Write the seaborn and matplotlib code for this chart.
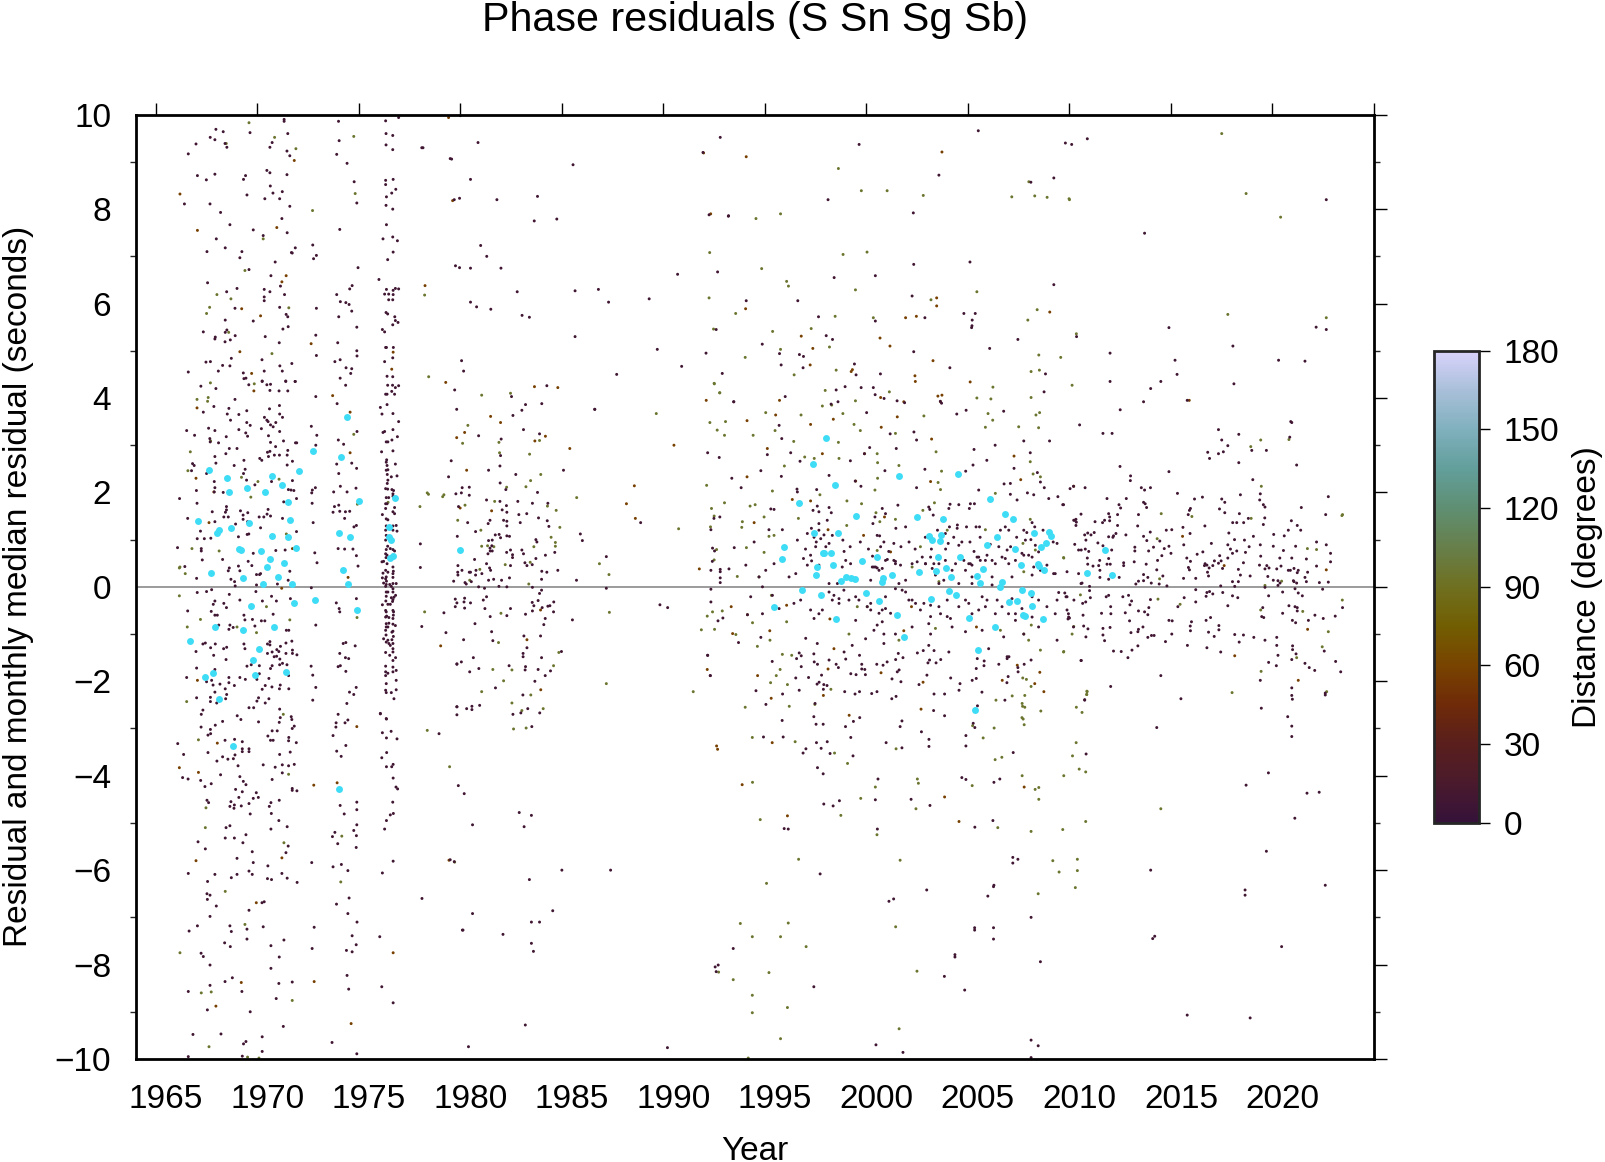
import numpy as np
import pandas as pd
import seaborn as sns
import matplotlib
matplotlib.use("Agg")
import matplotlib.pyplot as plt
from matplotlib.cm import ScalarMappable
from matplotlib.colors import LinearSegmentedColormap, Normalize
from matplotlib.ticker import MultipleLocator
from matplotlib.transforms import ScaledTranslation

# monthly medians (year, residual)
medians = [
    (1966.7,-1.14),(1967.1,1.4),(1967.4,-1.9),(1967.6,2.48),(1967.7,0.3),(1967.8,-1.83),(1967.9,-0.85),(1968.0,1.15),
    (1968.1,1.2),(1968.1,-2.38),(1968.5,2.3),(1968.6,2.0),(1968.7,1.25),(1968.8,-3.37),(1969.1,0.8),(1969.2,0.77),
    (1969.3,0.18),(1969.3,-0.92),(1969.5,2.1),(1969.6,1.35),(1969.7,-0.4),(1969.8,-1.55),(1969.9,-1.87),(1970.1,-1.32),
    (1970.2,0.75),(1970.4,2.0),(1970.3,0.07),(1970.5,0.43),(1970.6,0.6),(1970.7,2.35),(1970.7,1.07),(1970.8,-0.85),
    (1971.0,0.2),(1971.2,2.15),(1971.3,0.5),(1971.4,-1.8),(1971.5,1.8),(1971.5,1.05),(1971.6,1.42),(1971.7,0.07),
    (1971.8,-0.35),(1971.9,0.82),(1972.05,2.45),(1972.75,2.87),(1972.85,-0.28),(1974.0,-4.28),(1974.0,1.15),(1974.1,2.75),
    (1974.2,0.35),(1974.4,3.6),(1974.45,0.05),(1974.55,1.05),(1974.9,-0.5),(1975.0,1.82),(1976.5,1.27),(1976.5,1.05),
    (1976.6,1.0),(1976.55,0.62),(1976.7,0.65),(1976.8,1.88),(1980.0,0.77),
    (1998.03,3.16),(1997.35,2.6),(1998.44,2.15),(1996.68,1.78),(1999.5,1.5),(2001.62,2.34),(2004.5,2.39),(2006.1,1.87),
    (2006.83,1.55),(2007.2,1.44),(2002.5,1.47),(2003.76,1.43),(1997.43,1.15),(1998.6,1.15),(1995.93,0.85),(1995.85,0.6),
    (2003.1,1.08),(2003.25,1.0),(2003.66,1.09),(2003.6,0.98),(2006.42,1.06),(2005.93,0.89),(2007.34,0.81),(2008.27,1.13),
    (2008.6,0.84),(2008.85,0.92),(2009.0,1.17),(2009.1,1.07),(1997.85,0.71),(1997.93,0.71),(1998.25,0.72),(1998.34,0.47),
    (1997.58,0.42),(1997.53,0.25),(1999.76,0.54),(2000.53,0.64),(2002.6,0.32),(2001.25,0.25),(2000.83,0.18),(2000.76,0.1),
    (2003.53,0.64),(2004.6,0.64),(2003.42,0.34),(2003.94,0.39),(2004.17,0.2),(2005.76,0.38),(2005.43,0.22),(2005.58,0.09),
    (2006.66,0.11),(2006.6,0.0),(2007.6,0.47),(2008.43,0.48),(2008.5,0.44),(2008.75,0.35),(1998.75,0.13),(1999.0,0.2),
    (1999.25,0.18),(1999.42,0.17),(1996.84,-0.06),(1997.76,-0.17),(1999.99,-0.14),(2000.6,-0.29),(2003.17,-0.25),
    (2004.07,-0.08),(2004.42,-0.17),(2007.68,-0.06),(2008.1,-0.13),(2007.43,-0.3),(2007.0,-0.33),(2008.17,-0.4),
    (1995.43,-0.42),(1998.5,-0.69),(2001.5,-0.6),(2005.03,-0.67),(2006.35,-0.85),(2007.73,-0.6),(2007.83,-0.62),
    (2008.68,-0.69),(2001.84,-1.07),(2005.5,-1.33),(2005.34,-2.61),(2011.76,0.78),(2010.86,0.3),(2012.09,0.26),
]

# single residuals, nearby stations, 1965-1980
near_upper_left = [
    (1971.32,9.9),(1971.32,9.86),(1974.0,9.86),(1976.32,9.87),(1976.96,9.94),(1967.96,9.69),(1968.32,9.64),(1969.64,9.62),
    (1971.5,9.6),(1976.34,9.6),(1976.67,9.56),(1967.68,9.52),(1967.91,9.47),(1966.98,9.38),(1968.41,9.39),(1968.5,9.31),
    (1970.73,9.41),(1970.62,9.31),(1974.03,9.45),(1976.34,9.36),(1976.67,9.26),(1978.16,9.3),(1966.6,9.17),(1971.46,9.23),
    (1971.6,9.13),(1973.91,9.16),(1979.57,9.06),(1974.42,8.97),(1970.47,8.82),(1970.62,8.77),(1971.46,8.73),(1967.05,8.71),
    (1967.91,8.74),(1969.42,8.71),(1967.49,8.62),(1969.32,8.63),(1974.77,8.58),(1976.32,8.61),(1976.69,8.63),(1976.32,8.52),
    (1970.64,8.49),(1976.82,8.42),(1976.62,8.34),(1970.77,8.34),(1971.23,8.37),(1969.49,8.3),(1976.36,8.26),(1970.37,8.22),
    (1971.1,8.22),(1979.96,8.23),(1966.41,8.11),(1967.67,8.11),(1974.9,8.13),(1976.34,8.08),(1971.6,8.06),(1976.67,8.0),
    (1968.19,7.93),(1971.21,7.8),(1968.65,7.67),(1976.36,7.67),(1969.8,7.56),(1974.06,7.57),(1971.47,7.5),(1970.29,7.44),
    (1967.98,7.37),(1976.67,7.41),(1976.19,7.37),(1976.9,7.33),(1972.73,7.24),(1968.42,7.18),(1971.87,7.18),(1967.52,7.1),
    (1969.24,7.1),(1971.68,7.08),(1971.72,7.07),(1976.69,7.09),(1972.91,7.02),(1972.77,6.95),(1969.14,6.97),(1976.42,6.93),
    (1970.88,6.88),(1974.96,6.76),(1979.96,6.76),(1969.59,6.72),(1970.67,6.59),(1975.99,6.51),(1967.55,6.44),(1971.14,6.37),
    (1974.67,6.38),(1974.55,6.31),(1969.0,6.32),(1970.34,6.3),(1970.62,6.25),(1968.49,6.25),(1971.34,6.19),(1973.91,6.19),
    (1976.36,6.3),(1976.8,6.32),(1976.69,6.28),(1976.96,6.31),(1976.27,6.2),(1976.47,6.2),(1976.69,6.19),(1970.34,6.14),
    (1970.34,6.06),(1976.47,6.08),(1976.67,6.08),(1974.09,6.04),(1974.36,6.02),(1974.52,5.98),(1968.9,5.9),(1971.1,5.92),
    (1972.91,5.9),(1974.65,5.84),(1976.34,5.81),(1976.42,5.78),(1971.42,5.77),(1971.5,5.72),(1974.01,5.72),(1976.77,5.72),
    (1968.42,5.65),(1969.8,5.63),(1976.8,5.64),(1976.93,5.6),(1976.67,5.55),(1971.52,5.51),(1971.26,5.46),(1974.9,5.5),
    (1976.16,5.45),(1976.27,5.4),(1967.34,5.4),(1968.5,5.44),(1968.42,5.39),(1968.91,5.32),(1967.93,5.29),(1967.91,5.25),
    (1970.39,5.3),(1972.88,5.33),(1968.67,5.23),(1968.41,5.19),(1971.08,5.17),(1973.96,5.17),(1976.36,5.07),(1976.32,5.07),
    (1976.7,5.07),(1974.9,5.0),(1974.91,4.89),(1972.91,4.9),(1968.72,4.84),(1970.23,4.81),(1974.08,4.81),(1973.82,4.77),
    (1967.47,4.76),(1967.69,4.77),(1976.27,4.77),(1976.67,4.85),(1971.7,4.73),(1980.06,4.79),(1968.29,4.69),(1968.65,4.68),
    (1971.11,4.68),(1974.37,4.64),(1974.65,4.62),(1966.6,4.55),(1968.08,4.57),(1970.34,4.57),(1971.23,4.57),(1974.6,4.52),
    (1980.16,4.57),(1969.31,4.53),(1976.39,4.46),(1969.34,4.41),(1969.44,4.42),(1974.08,4.42),(1976.67,4.45),(1970.24,4.35),
    (1971.4,4.35),(1971.87,4.35),
]
near_middle_left = [
    (1967.22,4.25),(1967.96,4.2),(1969.58,4.28),(1970.24,4.36),(1970.47,4.28),(1970.65,4.29),(1970.62,4.16),(1971.07,4.15),
    (1971.5,4.15),(1971.4,4.36),(1971.86,4.35),(1974.35,4.27),(1976.42,4.27),(1976.66,4.27),(1976.96,4.26),(1976.8,4.22),
    (1976.62,4.14),(1976.76,4.08),(1976.32,4.08),(1976.39,4.08),(1972.88,4.03),(1973.93,3.88),(1976.39,3.86),(1976.06,3.8),
    (1967.86,3.82),(1968.9,3.97),(1971.09,3.84),(1970.6,3.77),(1968.6,3.78),(1969.48,3.73),(1967.34,3.7),(1968.52,3.66),
    (1969.09,3.65),(1971.1,3.66),(1976.14,3.66),(1976.68,3.67),(1970.35,3.59),(1971.24,3.59),(1968.68,3.53),(1970.47,3.53),
    (1976.96,3.5),(1969.48,3.48),(1969.65,3.42),(1970.53,3.5),(1970.65,3.43),(1970.78,3.39),(1970.91,3.48),(1972.66,3.4),
    (1967.6,3.36),(1969.09,3.33),(1970.2,3.35),(1971.1,3.29),(1966.52,3.31),(1967.91,3.31),(1969.43,3.26),(1976.27,3.29),
    (1976.19,3.27),(1976.68,3.33),(1974.91,3.29),(1966.91,3.21),(1972.93,3.21),(1969.52,3.19),(1970.55,3.2),(1968.47,3.18),
    (1967.66,3.14),(1976.9,3.18),(1976.63,3.11),(1973.99,3.11),(1971.29,3.09),(1970.65,3.06),(1968.09,3.05),(1967.68,3.07),
    (1976.35,3.07),(1976.43,3.07),(1971.88,3.05),(1971.94,3.05),(1974.25,3.02),(1972.88,3.0),(1970.9,2.97),(1968.62,2.93),
    (1969.0,2.93),(1971.5,2.89),(1970.5,2.85),(1970.62,2.87),(1968.45,2.82),(1976.12,2.86),(1976.68,2.88),(1970.84,2.79),
    (1971.09,2.79),(1971.47,2.79),(1967.91,2.76),(1970.12,2.72),(1970.22,2.68),(1969.34,2.68),(1970.55,2.76),(1971.73,2.66),
    (1976.37,2.69),(1966.81,2.61),(1966.89,2.57),(1967.96,2.62),(1971.47,2.58),(1968.86,2.57),(1973.91,2.6),
    (1974.65,2.62),(1966.76,2.46),(1969.4,2.49),(1974.89,2.51),
    (1967.5,2.4),(1969.32,2.4),(1974.01,2.4),(1969.47,2.26),(1971.73,2.25),
    (1970.7,2.23),(1967.88,2.23),(1969.88,2.16),(1967.91,2.1),(1967.88,2.01),(1974.09,2.13),
    (1971.53,2.06),(1971.66,2.05),(1971.8,2.04),(1972.86,2.1),(1972.71,2.05),(1967.0,2.04),(1974.86,2.09),(1974.42,2.01),
    (1973.76,2.01),(1972.68,1.99),(1968.32,2.0),(1966.17,1.87),
    (1971.93,1.87),(1967.03,1.77),(1971.3,1.8),(1972.7,1.77),(1974.01,1.73),(1973.8,1.7),
    (1968.48,1.7),(1968.48,1.63),(1968.43,1.58),(1970.53,1.64),(1969.53,1.57),(1969.17,1.61),(1967.78,1.59),
    (1973.73,1.58),(1974.06,1.6),(1974.34,1.59),(1974.55,1.6),(1970.48,1.54),(1970.32,1.48),(1970.09,1.48),(1969.3,1.52),(1968.35,1.48),(1968.57,1.48),
    (1966.57,1.45),(1970.65,1.5),(1971.24,1.45),(1974.3,1.45),(1972.75,1.36),(1967.91,1.38),(1969.52,1.38),(1969.3,1.43),
    (1968.93,1.33),(1970.16,1.25),(1967.2,1.18),
    (1969.5,1.11),(1969.58,1.12),(1974.76,1.27),(1974.88,1.3),(1971.93,1.17),
    (1969.07,1.06),(1967.04,1.02),(1967.39,1.02),(1967.71,1.03),(1966.07,0.83),(1967.24,0.81),(1967.24,0.76),(1978.03,0.91),
    (1973.98,0.81),(1974.3,0.8),(1974.71,0.8),(1969.8,0.71),(1972.83,0.72),(1970.91,0.77),(1971.37,0.78),(1974.88,0.66),
    (1967.29,0.57),(1968.29,0.58),(1969.55,0.54),(1969.07,0.44),(1969.14,0.34),(1968.62,0.4),(1968.57,0.34),(1966.43,0.43),
    (1969.73,0.45),(1972.94,0.51),(1974.96,0.44),(1978.03,0.41),(1971.6,0.33),(1969.96,0.26),(1970.11,0.26),(1970.16,0.28),
    (1967.01,0.18),(1968.88,0.11),(1968.91,0.02),(1968.7,0.16),(1969.96,0.04),(1970.99,0.06),(1971.52,0.14),
    (1967.5,-0.1),(1967.75,-0.06),(1967.04,-0.12),(1968.62,-0.16),(1969.14,-0.28),(1969.93,-0.1),(1972.66,-0.02),(1970.25,-0.3),
    (1970.7,-0.2),(1967.91,-0.3),(1967.83,-0.37),(1968.35,-0.35),(1970.94,-0.3),(1971.63,-0.25),(1973.89,-0.34),(1974.88,-0.25),
    (1966.57,-0.51),(1967.73,-0.52),(1968.48,-0.44),(1969.34,-0.6),(1974.06,-0.53),(1974.03,-0.46),(1967.91,-0.6),(1968.03,-0.6),
    (1970.78,-0.58),(1969.76,-0.69),(1970.2,-0.72),(1970.37,-0.72),(1968.65,-0.81),(1968.81,-0.86),(1968.6,-0.9),(1969.39,-0.7),
    (1968.1,-0.81),(1969.88,-0.83),(1971.43,-0.92),(1971.55,-0.92),(1972.88,-0.81),(1978.1,-0.84),
]
# the dense column of 1976
near_1976 = [
    (1976.35,2.64),(1976.39,2.57),(1976.8,2.6),(1976.35,2.47),(1976.43,2.48),(1976.4,2.38),(1976.88,2.35),(1976.6,2.33),
    (1976.43,2.26),(1976.4,2.19),(1976.32,2.08),(1976.42,2.07),(1976.63,2.06),(1976.71,2.04),(1976.68,1.97),(1976.68,1.92),
    (1976.35,1.89),(1976.47,1.89),(1976.32,1.76),(1976.39,1.76),(1976.76,1.68),(1976.32,1.66),(1976.68,1.59),(1976.76,1.55),
    (1976.16,1.53),(1976.35,1.44),(1976.43,1.42),(1976.84,1.3),(1976.68,1.29),(1976.35,1.29),(1976.32,1.2),(1976.88,1.18),
    (1976.68,1.2),(1976.35,1.09),(1976.32,0.99),(1976.42,0.86),(1976.35,0.79),(1976.55,0.81),(1976.68,0.79),(1976.76,0.76),
    (1976.32,0.7),(1976.39,0.67),(1976.68,0.67),(1976.22,0.54),(1976.14,0.53),(1976.39,0.49),(1976.68,0.42),(1976.32,0.35),
    (1976.19,0.29),(1976.43,0.31),(1976.68,0.28),(1976.35,0.21),(1976.16,0.19),(1976.32,0.17),(1976.68,0.2),(1976.22,0.08),
    (1976.35,0.05),(1976.52,0.05),(1976.68,0.07),(1976.84,0.07),(1976.32,0.01),(1976.6,0.01),(1976.68,-0.04),(1976.35,-0.11),
    (1976.68,-0.11),(1976.43,-0.11),(1976.81,-0.18),(1976.35,-0.2),(1976.6,-0.23),(1976.73,-0.22),(1976.68,-0.27),(1976.16,-0.38),
    (1976.43,-0.37),(1976.55,-0.37),(1976.32,-0.5),(1976.35,-0.53),(1976.68,-0.5),(1976.71,-0.53),(1976.32,-0.64),(1976.48,-0.65),
    (1976.68,-0.67),(1976.35,-0.78),(1976.48,-0.77),(1976.68,-0.79),(1976.8,-0.82),(1976.35,-0.85),(1976.43,-0.85),(1976.32,-0.92),
    (1976.68,-0.94),(1976.63,-0.96),(1976.22,-1.1),(1976.35,-1.17),(1976.43,-1.13),(1976.63,-1.12),(1976.48,-1.2),(1976.68,-1.2),
    (1976.55,-1.24),(1976.68,-1.31),(1976.32,-1.39),(1976.68,-1.38),(1976.52,-1.45),(1976.81,-1.5),(1976.68,-1.56),(1976.32,-1.68),
    (1976.68,-1.7),(1976.32,-1.8),(1976.43,-1.83),(1976.68,-1.8),(1976.84,-1.77),(1976.32,-1.88),(1976.84,-1.98),(1976.35,-2.05),
    (1976.32,-2.19),(1976.35,-2.24),(1976.6,-2.24),(1976.84,-2.18),(1976.73,-2.37),(1976.06,-2.69),(1976.35,-2.79),
    (1976.34,0.62),(1976.36,0.12),(1976.33,-0.3),(1976.37,-0.62),(1976.7,0.33),(1976.66,-0.31),(1976.7,-0.6),(1976.34,-1.02),(1976.7,-1.05),
]
near_lower_left = [
    (1966.98,-1.37),(1967.32,-1.21),(1967.44,-1.19),(1967.7,-1.29),(1967.93,-1.21),(1967.85,-1.45),(1968.34,-1.31),(1968.49,-1.28),
    (1968.46,-1.54),(1969.34,-1.21),(1969.39,-1.31),(1970.5,-1.21),(1970.62,-1.23),(1970.62,-1.16),(1971.14,-1.26),(1971.41,-1.19),
    (1971.7,-1.15),(1970.96,-1.33),(1971.06,-1.37),(1970.5,-1.41),(1970.73,-1.38),(1970.83,-1.48),(1970.95,-1.47),(1971.11,-1.53),
    (1971.41,-1.41),(1971.73,-1.34),(1971.73,-1.41),(1971.95,-1.44),(1974.23,-1.2),(1974.36,-1.18),(1974.82,-1.25),(1974.06,-1.41),
    (1974.34,-1.5),(1974.5,-1.52),(1979.83,-1.64),(1980.05,-1.59),(1967.01,-1.72),(1967.91,-1.75),(1969.49,-1.68),(1969.7,-1.65),
    (1970.1,-1.67),(1970.73,-1.67),(1970.65,-1.73),(1971.1,-1.65),(1971.24,-1.62),(1971.46,-1.65),(1972.65,-1.68),(1972.73,-1.87),
    (1973.98,-1.69),(1974.09,-1.67),(1974.36,-1.79),(1966.52,-1.92),(1968.6,-1.92),(1969.14,-1.92),(1969.41,-1.96),(1967.5,-2.01),
    (1967.75,-1.98),(1970.1,-1.84),(1969.98,-1.96),(1970.57,-1.94),(1971.54,-1.88),(1967.82,-2.08),(1968.16,-2.06),(1968.6,-2.03),
    (1968.87,-2.09),(1968.42,-2.16),(1970.39,-2.09),(1970.72,-2.12),(1971.13,-2.08),(1970.24,-2.17),(1971.09,-2.16),(1971.55,-2.16),
    (1972.88,-2.13),(1974.87,-2.13),(1974.54,-2.23),(1974.75,-2.28),(1967.91,-2.23),(1968.49,-2.28),(1967.01,-2.35),(1967.69,-2.34),
    (1967.69,-2.43),(1968.44,-2.37),(1968.0,-2.46),(1969.98,-2.42),(1970.06,-2.35),(1970.39,-2.46),(1970.57,-2.37),(1972.73,-2.4),
    (1974.41,-2.47),(1969.59,-2.56),(1969.82,-2.56),(1971.1,-2.59),(1979.83,-2.54),(1979.83,-2.71),(1967.24,-2.7),(1967.32,-2.61),
    (1969.01,-2.73),(1969.19,-2.81),(1971.67,-2.75),(1971.7,-2.81),(1971.13,-2.77),(1971.08,-2.87),(1973.98,-2.7),(1974.46,-2.82),
    (1974.32,-2.88),(1973.88,-2.88),(1973.87,-2.97),(1976.06,-2.68),(1976.36,-2.8),(1968.29,-2.85),(1967.93,-2.93),(1967.23,-2.97),
    (1970.06,-2.86),(1967.69,-3.02),(1967.57,-3.14),(1967.7,-3.11),(1970.73,-3.05),(1970.98,-3.05),(1970.52,-3.16),(1971.82,-2.95),
    (1971.72,-3.0),(1976.59,-3.06),(1976.16,-3.09),(1973.73,-3.15),(1976.36,-3.2),(1976.88,-3.22),(1978.95,-3.11),(1968.41,-3.25),
    (1968.88,-3.23),(1969.26,-3.28),(1966.08,-3.32),(1970.65,-3.25),(1970.78,-3.25),(1971.55,-3.19),(1971.54,-3.26),(1971.92,-3.3),
    (1969.26,-3.43),(1969.26,-3.49),(1969.59,-3.43),(1969.59,-3.49),(1974.36,-3.36),(1973.91,-3.48),(1967.57,-3.51),(1971.62,-3.5),
    (1971.1,-3.55),(1966.37,-3.55),(1976.37,-3.51),(1976.13,-3.62),(1968.9,-3.56),(1968.29,-3.6),(1968.82,-3.64),(1968.55,-3.65),
    (1968.01,-3.69),(1974.13,-3.59),(1969.05,-3.79),(1970.29,-3.77),(1970.88,-3.82),(1971.23,-3.77),(1971.54,-3.79),(1971.82,-3.76),
    (1976.36,-3.81),(1976.62,-3.81),(1976.69,-3.76),(1966.32,-4.04),(1966.59,-4.07),(1968.19,-3.98),(1969.14,-4.02),(1971.23,-3.94),
    (1970.73,-4.08),(1976.69,-4.05),(1967.21,-4.1),(1967.73,-4.17),(1967.42,-4.23),(1969.31,-4.12),(1969.44,-4.19),(1968.93,-4.29),
    (1969.26,-4.34),(1971.72,-4.27),(1971.72,-4.31),(1971.95,-4.32),(1976.83,-4.24),(1976.91,-4.28),(1969.95,-4.36),(1969.09,-4.46),
    (1969.8,-4.48),(1970.05,-4.46),(1967.52,-4.52),(1967.6,-4.57),(1968.7,-4.55),(1968.87,-4.62),(1968.65,-4.65),(1968.85,-4.69),
    (1969.21,-4.64),(1969.59,-4.59),(1970.67,-4.57),(1970.59,-4.65),(1971.08,-4.52),(1974.08,-4.63),(1974.9,-4.56),(1974.9,-4.72),
    (1976.67,-4.56),(1980.19,-4.38),(1974.28,-4.81),(1969.65,-4.81),(1970.69,-4.8),(1976.55,-4.83),(1976.7,-4.8),(1971.06,-4.95),
    (1971.47,-5.08),(1970.67,-5.13),(1976.36,-4.95),(1976.27,-5.13),(1968.65,-5.06),(1968.46,-5.1),(1974.9,-5.04),(1974.75,-5.16),
    (1974.88,-5.27),(1973.82,-5.2),(1973.7,-5.29),(1973.96,-5.44),(1969.44,-5.25),(1968.42,-5.32),(1968.87,-5.32),(1969.29,-5.42),
    (1967.08,-5.4),(1967.44,-5.55),(1971.52,-5.49),(1971.41,-5.63),(1974.87,-5.52),(1969.75,-5.61),(1969.0,-5.75),(1969.8,-5.84),
    (1972.68,-5.84),(1976.69,-5.81),(1970.52,-5.91),(1973.73,-5.93),(1974.14,-5.88),(1974.46,-6.01),(1969.59,-6.02),(1969.0,-6.09),
    (1968.72,-6.16),(1969.75,-6.09),(1971.21,-6.07),(1971.47,-6.17),(1966.6,-6.07),(1967.91,-6.09),(1967.55,-6.24),(1976.16,-6.06),
    (1970.5,-6.18),(1970.7,-6.2),(1971.96,-6.26),(1967.52,-6.5),(1967.67,-6.53),(1967.54,-6.62),(1967.98,-6.76),(1967.67,-6.98),
    (1970.23,-6.69),(1970.34,-6.67),(1974.52,-6.59),(1973.9,-6.72),(1974.46,-6.92),(1969.59,-6.85),(1978.11,-6.6),(1974.91,-7.1),
    (1967.05,-7.18),(1966.64,-7.29),(1968.65,-7.18),(1968.72,-7.3),(1969.49,-7.25),(1970.29,-7.2),(1972.8,-7.21),(1980.13,-7.27),
    (1976.03,-7.41),(1969.49,-7.46),(1974.67,-7.39),(1971.31,-7.48),(1968.39,-7.54),(1968.67,-7.62),(1970.67,-7.6),(1974.87,-7.58),
    (1972.7,-7.66),(1974.39,-7.7),(1974.67,-7.73),(1967.23,-7.76),(1967.34,-7.83),(1971.08,-7.84),(1967.67,-8.01),(1970.67,-8.08),
    (1974.42,-8.23),(1968.41,-8.36),(1968.77,-8.28),(1967.67,-8.44),(1971.06,-8.4),(1971.72,-8.37),(1976.13,-8.47),(1974.5,-8.52),
    (1966.6,-8.57),(1969.24,-8.57),(1970.93,-8.72),(1976.69,-8.81),(1967.54,-8.96),(1969.65,-9.0),(1971.28,-9.31),(1966.83,-9.48),
    (1968.21,-9.47),(1970.24,-9.53),(1973.68,-9.65),(1969.32,-9.68),(1969.44,-9.63),(1970.24,-9.84),(1974.9,-9.89),(1966.6,-9.95),
    (1969.26,-9.94),
]
# 1979-1993
near_eighties = [
    (1979.72,4.17),(1979.82,3.76),(1980.9,3.2),(1979.55,2.67),(1979.42,2.33),(1981.39,2.47),(1981.95,2.56),(1981.98,2.78),
    (1982.59,3.63),(1982.52,4.03),(1983.21,3.86),(1983.03,3.74),(1984.01,3.88),(1984.26,4.26),(1983.11,3.33),(1983.9,3.24),
    (1982.01,3.13),(1986.62,3.76),(1985.08,2.47),(1982.73,2.38),(1981.96,2.2),(1980.09,2.1),(1980.44,2.11),(1980.05,1.99),
    (1979.78,1.97),(1980.44,1.94),(1982.24,2.06),(1983.8,2.0),(1979.91,1.7),(1981.29,1.84),(1981.95,1.81),(1982.83,1.81),
    (1983.55,1.77),(1984.31,1.77),(1982.27,1.72),(1982.06,1.63),(1982.29,1.58),(1982.88,1.53),(1983.27,1.55),(1983.85,1.46),
    (1980.36,1.36),(1981.46,1.41),(1981.37,1.34),(1982.13,1.41),(1982.29,1.39),(1982.29,1.29),(1982.95,1.36),(1984.28,1.4),
    (1984.36,1.28),(1980.75,1.17),(1979.85,1.07),(1981.72,1.1),(1981.91,1.11),(1982.29,1.08),(1982.42,1.07),(1981.98,1.04),
    (1981.39,0.98),(1981.57,0.99),(1983.72,1.0),(1983.77,0.95),(1985.91,1.12),(1986.01,0.98),(1981.46,0.82),(1981.55,0.87),
    (1981.47,0.76),(1981.57,0.76),(1981.36,0.7),(1982.47,0.78),(1982.28,0.73),(1982.57,0.68),(1982.57,0.62),(1983.03,0.78),
    (1983.11,0.7),(1984.19,0.67),(1984.65,0.73),(1980.7,0.58),(1983.72,0.6),(1981.29,0.49),(1981.44,0.4),(1981.49,0.35),
    (1982.47,0.45),(1983.18,0.51),(1983.28,0.45),(1983.54,0.47),(1979.88,0.45),(1980.08,0.35),(1979.87,0.31),(1979.88,0.25),
    (1980.44,0.31),(1980.5,0.31),(1980.77,0.35),(1981.06,0.28),(1980.75,0.25),(1984.01,0.33),(1984.26,0.31),(1984.8,0.35),
    (1987.19,0.64),(1979.67,0.12),(1980.23,0.09),(1980.29,0.06),(1980.54,0.11),(1981.39,0.14),(1981.64,0.16),(1982.03,0.14),
    (1982.42,0.19),(1984.0,0.16),(1985.72,0.14),(1980.9,0.0),(1981.19,-0.03),(1981.9,0.01),(1982.29,0.0),(1983.55,-0.01),
    (1984.0,-0.07),(1983.9,-0.14),(1987.19,-0.03),(1979.75,-0.26),(1979.83,-0.34),(1980.21,-0.24),(1980.18,-0.32),(1979.75,-0.42),
    (1980.21,-0.45),(1980.5,-0.34),(1981.29,-0.21),(1981.13,-0.28),(1981.21,-0.46),(1982.47,-0.46),(1983.54,-0.33),(1983.83,-0.29),
    (1984.6,-0.32),(1983.62,-0.4),(1984.03,-0.44),(1984.31,-0.41),(1984.41,-0.4),(1983.55,-0.51),(1984.59,-0.53),(1989.83,-0.38),
    (1990.21,-0.44),(1979.19,-0.55),(1981.47,-0.63),(1982.29,-0.61),(1983.21,-0.58),(1984.18,-0.67),(1984.11,-0.8),(1985.52,-0.7),
    (1980.72,-0.78),(1979.29,-0.97),(1980.16,-1.12),(1981.54,-0.95),(1981.6,-1.14),(1983.13,-1.04),(1983.95,-1.04),(1983.28,-1.29),
    (1984.98,-1.37),(1984.0,-1.5),(1983.09,-1.41),(1983.09,-1.48),(1979.83,-1.63),(1980.64,-1.5),(1980.91,-1.73),(1980.46,-1.8),
    (1982.4,-1.67),(1983.21,-1.69),(1983.19,-1.76),(1983.83,-1.75),(1984.44,-1.78),(1984.18,-1.88),(1983.67,-2.0),(1981.73,-2.14),
    (1983.08,-2.29),(1979.83,-2.54),(1980.31,-2.58),(1980.57,-2.53),(1980.57,-2.6),(1980.95,-2.51),(1982.59,-2.7),(1982.98,-2.67),
    (1983.32,-2.58),(1983.91,-2.67),(1983.52,-2.96),(1992.18,2.84),(1992.75,2.74),(1993.47,3.92),(1992.78,1.48),(1992.49,1.45),
    (1992.34,1.21),(1992.42,0.82),(1992.52,0.76),(1993.49,0.83),(1992.41,0.54),(1992.34,0.35),(1992.8,0.37),(1992.8,0.32),
    (1993.23,0.38),(1992.8,0.19),(1992.8,0.09),(1992.34,-0.05),(1992.34,-0.32),(1992.93,-0.66),(1992.69,-0.72),(1993.7,-1.18),
    (1992.18,-1.45),(1992.31,-1.88),(1993.37,2.3),(1988.88,1.36),(1986.62,3.76),
    (1978.1,9.3),(1980.0,9.98),(1979.5,9.07),(1980.87,9.41),(1985.55,8.94),(1991.95,9.2),(1979.7,8.2),(1980.5,8.63),(1981.8,8.2),
    (1983.8,8.27),(1984.75,7.79),(1983.64,7.75),(1992.25,7.88),(1993.2,7.85),(1979.76,6.8),(1980.5,6.75),(1981.0,7.23),(1981.3,7.0),
    (1982.0,6.75),(1982.8,6.25),(1983.04,5.75),(1983.4,5.71),(1980.5,6.03),(1980.8,5.93),(1981.5,5.88),(1985.65,6.27),(1986.8,6.3),
    (1987.3,6.03),(1989.3,6.1),(1990.7,6.62),(1985.65,5.3),(1989.7,5.03),(1987.7,4.5),(1990.9,4.67),(1992.6,5.45),(1992.1,4.95),
    (1979.9,-4.21),(1980.6,-5.04),(1979.5,-5.78),(1979.7,-5.82),(1980.6,-6.92),(1980.1,-7.27),(1982.1,-7.36),(1983.5,-7.55),
    (1983.6,-7.72),(1983.2,-9.28),(1980.4,-9.74),(1990.2,-9.76),(1983.4,-6.2),(1983.9,-7.1),(1983.5,-7.1),(1984.55,-6.86),
    (1983.5,-4.84),(1983.14,-5.08),(1982.9,-4.78),(1985.0,-6.0),(1987.4,-6.0),(1992.55,-8.05),(1992.6,-8.15),
]
# 1992-2011
near_nineties_upper = [
    (1992.8,9.52),(1999.64,9.37),(2005.51,9.66),(2010.11,9.37),(2010.88,9.49),(2003.57,8.72),(2009.23,8.66),(1998.11,8.2),
    (1993.21,7.86),(2002.31,7.92),(2005.1,6.88),(2009.23,6.4),(2002.33,6.83),(1992.67,6.67),(1998.41,6.55),(2000.44,6.59),
    (1994.08,6.06),(1996.62,6.06),(1997.64,5.72),(2000.44,5.63),(2002.88,5.7),(2004.8,5.79),(2005.36,5.79),(2005.21,5.65),
    (2005.2,5.53),(2005.18,5.49),(2002.25,6.16),(2007.46,5.24),(1998.02,5.32),(1998.33,5.24),(2006.07,5.05),(1994.87,5.14),
    (2002.33,4.98),(1995.72,4.94),(1996.7,4.92),(1996.9,4.88),(1995.8,4.7),(1996.88,4.64),(2004.11,4.64),(1999.41,4.72),
    (1999.49,4.49),(2000.69,4.51),(2008.82,4.51),(1992.9,4.52),(1996.0,4.03),(1998.95,4.24),(1999.74,4.22),(2000.34,4.22),
    (1998.51,4.17),(2000.43,4.07),(2000.87,3.99),(2001.51,3.94),(2001.88,3.9),(1998.26,3.87),(1998.6,3.92),(2008.75,4.13),
    (1993.46,3.92),(2003.64,3.93),(2003.7,3.89),
]
near_nineties_centre = [
    (2000.01,3.69),(2004.45,3.66),(2004.91,3.74),(2006.76,3.72),(1995.7,3.42),(1995.83,3.14),(1995.12,2.8),(1996.27,2.84),
    (1996.73,2.66),(1994.8,2.46),(1995.81,2.34),(1998.16,2.36),(1999.21,2.67),(1999.9,2.82),(2000.16,2.95),(2001.47,2.93),
    (2002.47,3.11),(2001.17,3.24),(2002.34,3.28),(2005.3,2.91),(2005.93,2.68),(2006.34,3.0),(2007.75,3.09),(2009.02,3.09),
    (2008.07,2.84),(2007.27,2.51),(2008.42,2.42),(2005.25,2.58),(2002.88,2.49),(2004.89,2.45),(2000.91,2.46),(1999.73,2.13),
    (1999.45,2.24),(2002.47,2.1),(1993.83,2.1),(1996.58,2.07),(1996.6,2.01),(1997.55,2.06),(2006.78,2.18),(2007.09,2.19),
    (2008.57,2.22),(2008.76,2.1),(2009.43,1.91),(2010.2,2.13),(2007.93,1.99),(2008.98,1.87),(2008.24,1.95),(2007.09,1.96),
    (2007.42,1.84),(2005.53,2.05),(2005.12,1.76),(2005.32,1.76),(2004.12,1.75),(2004.55,1.74),(2003.07,1.69),(2003.12,1.64),
    (1995.29,1.65),(1995.45,1.64),(1997.58,1.71),(1997.66,1.59),(1997.37,1.62),(1998.16,1.68),(1998.27,1.57),(2000.78,1.66),
    (2000.94,1.55),(2000.42,1.48),(2000.32,1.34),(2001.55,1.73),(2003.29,1.52),(2004.06,1.66),(2005.07,1.66),(2009.71,1.74),
    (1995.86,1.21),(1995.2,1.21),(1994.47,0.95),(1996.6,0.99),(1997.09,1.13),(1997.66,1.34),(1997.29,1.24),(1998.07,1.41),
    (1998.32,1.09),(1998.16,0.92),(1998.84,0.99),(1997.53,0.95),(1997.5,0.85),(1997.75,1.02),(2000.53,1.09),(2000.65,1.08),
    (2001.45,1.24),(2001.93,1.27),(2001.35,0.92),(2000.86,0.95),(2003.89,1.13),(2004.09,1.27),(2004.48,1.31),(2004.47,1.24),
    (2004.93,1.27),(2004.03,0.92),(2004.55,0.88),(2005.4,1.27),(2005.57,1.27),(2006.84,1.27),(2007.01,1.2),(2007.75,1.2),
    (2008.16,1.36),(2008.29,1.27),(2009.39,0.92),(2010.26,1.41),(2010.34,1.37),(2007.83,0.99),(2007.75,0.67),(2008.32,0.88),
    (2008.48,0.74),(2006.93,0.78),(2006.52,0.85),(2005.53,0.63),(2005.94,0.67),(2005.12,0.49),(2005.2,0.46),(2004.88,0.35),
    (2001.35,0.56),(2001.43,0.49),(2000.94,0.56),(2000.29,0.42),(2000.45,0.42),(2000.62,0.35),(1998.98,0.56),(1998.81,0.42),
    (1999.22,0.49),(1997.25,0.67),(1997.66,0.46),(1997.09,0.46),(1996.52,0.28),(1996.19,0.21),(1994.71,0.21),(1995.45,0.49),
    (1995.04,0.35),(1994.06,0.46),(2002.25,0.49),(2002.91,0.49),(2003.24,0.39),(2003.4,0.25),(2004.22,0.35),(2003.81,0.14),
    (2005.2,0.21),(2006.19,0.21),(2007.17,0.21),(2008.16,0.25),(2009.3,0.28),(2009.88,0.32),(1998.16,0.07),(1998.57,0.07),
    (2000.21,0.14),(2001.6,0.07),(2001.93,0.14),(2003.57,0.07),(2004.55,0.07),(2005.2,0.07),(2006.19,0.04),
    (1994.3,-0.21),(1995.37,-0.18),(1994.88,0.0),(1995.7,-0.46),(1994.14,-0.59),(1994.88,-0.57),(1996.43,-0.35),(1996.76,-0.28),
    (1997.25,-0.49),(1997.66,-0.57),(1997.42,-0.67),(1997.83,-0.49),(1998.32,-0.28),(1998.65,-0.35),(1999.14,-0.28),(1999.47,-0.71),
    (2000.94,-0.21),(2001.43,-0.04),(2001.93,-0.11),(2000.21,-0.35),(2000.04,-0.42),(2000.78,-0.49),(2000.78,-0.74),(2000.53,-0.81),
    (2000.37,-0.92),(2000.86,-1.0),(2001.43,-1.0),(2002.25,-0.28),(2002.83,-0.35),(2002.25,-0.85),(2003.16,-0.39),(2003.07,-0.78),
    (2003.16,-1.0),(2003.98,-0.28),(2004.14,-0.67),(2004.22,-0.85),(2004.88,-0.28),(2005.53,-0.49),(2005.94,-0.28),(2006.35,-0.57),
    (2007.0,-0.57),(2007.34,-0.71),(2008.16,-0.64),(2008.48,-0.85),(2009.39,-0.28),(2009.88,-0.21),(2009.96,-0.64),(2010.2,-0.85),
    (2004.88,-0.95),(2005.7,-0.92),(2006.76,-1.06),(2007.75,-1.0),(2009.39,-1.13),(1994.8,-1.07),(1997.01,-1.09),(1997.58,-1.2),
    (1999.3,-1.24),(1999.96,-1.1),(2000.86,-1.2),(2003.07,-1.24),(2004.06,-1.38),(2006.02,-1.31),(2006.93,-1.48),
]
# second pass over the densest part of the cloud
near_nineties_dense = [
    (2000.37,0.42),(2000.53,0.4),(2000.78,0.39),(2001.03,0.58),(2001.43,0.54),(2001.68,0.46),(2002.5,0.53),(2002.75,0.63),
    (2002.91,0.49),(2003.16,0.63),(2003.32,0.49),(2003.57,0.49),(2003.89,0.56),(2004.39,0.49),(2004.8,0.56),(2005.04,0.49),
    (2005.45,0.63),(2005.61,0.56),(2005.86,0.56),(2006.19,0.56),(2006.35,0.49),(2006.68,0.63),(2006.84,0.6),(2007.01,0.49),
    (2007.34,0.56),(2007.66,0.71),(2007.99,0.67),(2008.16,0.63),(2008.24,0.42),(2008.57,0.35),(2008.89,0.46),(2009.22,0.28),
    (1998.16,-0.11),(1998.4,-0.18),(1998.65,-0.25),(1998.89,-0.07),(1999.47,-0.21),(1999.63,-0.28),(2000.21,-0.49),(2000.62,-0.56),
    (2000.94,-0.46),(2001.19,-0.56),(2001.76,-0.07),(2002.09,-0.28),(2002.42,-0.35),(2002.66,-0.49),(2003.16,-0.63),(2003.57,-0.42),
    (2003.65,-0.57),(2003.98,-0.63),(2004.55,-0.42),(2005.04,-0.35),(2005.2,-0.57),(2005.7,-0.21),(2005.86,-0.42),(2006.44,-0.28),
    (2006.68,-0.42),(2007.17,-0.25),(2007.34,-0.57),(2007.66,-0.46),(2008.16,-0.21),(2008.48,-0.28),(2008.89,-0.42),(2009.3,-0.57),
    (2009.88,-0.49),(1997.66,1.2),(1997.91,1.1),(1997.42,1.05),(1997.0,0.8),(1996.9,0.6),(1997.3,0.55),(1998.0,0.85),(1998.9,0.75),
    (1999.2,0.85),(1999.7,0.95),(2000.1,0.8),(2000.3,0.65),(2000.7,0.85),(2001.1,0.75),(2001.7,0.85),(2002.1,0.95),(2002.4,0.8),
    (2002.9,1.05),(2003.2,0.8),(2003.5,1.2),(2003.9,0.8),(2004.3,1.05),(2004.7,0.95),(2005.1,0.95),(2005.3,0.75),(2005.6,1.05),
    (2006.1,0.9),(2006.6,1.2),(2007.1,0.85),(2007.4,1.05),(2007.9,1.15),(2008.1,1.0),(2008.7,1.2),(2009.2,0.95),
]
near_nineties_lower = [
    (1992.18,-1.45),(1992.31,-1.88),(1995.36,-1.58),(1996.56,-1.52),(1996.79,-1.46),(1996.69,-1.4),(1996.79,-1.69),(1997.41,-1.42),
    (1997.43,-1.59),(1997.59,-1.64),(1998.16,-1.55),(1998.51,-1.64),(1998.62,-1.71),(1998.98,-1.53),(1998.9,-1.38),(1999.66,-1.45),
    (1999.77,-1.64),(1999.77,-1.74),(1999.92,-1.75),(2000.51,-1.64),(2000.82,-1.66),(2001.02,-1.59),(2001.44,-1.54),(2001.8,-1.5),
    (2001.57,-1.41),(2002.51,-1.4),(2002.8,-1.35),(2003.33,-1.35),(2003.11,-1.55),(2003.03,-1.61),(2003.43,-1.61),(2003.66,-1.54),
    (2001.61,-1.76),(2001.52,-1.8),(1996.52,-1.93),(1997.15,-1.92),(1997.79,-1.87),(1997.67,-2.02),(1997.57,-2.06),(1997.9,-2.07),
    (1998.06,-2.09),(1996.69,-2.19),(1995.87,-2.27),(1994.56,-2.2),(1997.88,-2.17),(1999.23,-1.84),(1999.49,-1.86),(1999.95,-1.86),
    (1998.93,-2.22),(1999.44,-2.27),(1999.66,-2.22),(2000.26,-2.26),(2000.52,-2.22),(2001.26,-1.95),(2001.7,-2.01),(2001.25,-2.37),
    (2001.46,-2.32),(2002.59,-2.07),(2002.98,-1.87),(2003.33,-2.27),(2003.85,-2.27),(2004.15,-1.93),(2004.61,-2.05),(2004.56,-2.19),
    (2005.21,-1.98),(2005.41,-1.94),(2005.69,-2.23),(2005.41,-1.73),(2005.79,-1.67),(2005.8,-1.57),(2005.46,-1.52),(2006.52,-1.64),
    (2006.93,-1.52),(2007.02,-1.48),(2007.46,-1.71),(2007.47,-1.8),(2007.77,-1.64),(2008.11,-1.55),(2006.98,-1.9),(2006.92,-2.03),
    (2006.82,-2.4),(2010.57,-1.56),(2010.75,-2.4),(1995.05,-2.49),(1997.47,-2.47),(1997.41,-2.75),(1997.52,-2.91),(1997.87,-2.91),
    (1995.85,-2.83),(1998.97,-2.96),(1999.67,-2.77),(1999.36,-2.85),(2001.75,-2.84),(2001.66,-2.96),(2003.31,-2.62),(2003.85,-2.73),
    (2005.47,-2.52),(2005.26,-2.89),(2005.34,-2.98),(2002.71,-3.07),(2003.08,-3.23),(2003.08,-3.38),(2004.9,-3.15),(2004.9,-3.37),
    (1994.93,-3.18),(1995.9,-3.18),(1997.54,-3.3),(1998.07,-3.28),(1997.77,-3.42),(1997.02,-3.43),(1996.88,-3.52),(1998.21,-3.53),
    (1999.23,-3.19),(1999.34,-3.58),(2000.97,-3.3),(2001.75,-3.41),(2007.23,-3.51),(2010.82,-3.54),(1997.59,-3.83),(1997.87,-3.96),
    (2000.57,-4.07),(2004.7,-4.04),(2004.9,-4.08),(2006.28,-4.14),(2006.57,-4.07),(1997.9,-4.6),(1998.36,-4.64),(1998.67,-4.53),
    (2000.44,-4.51),(2002.2,-4.5),(2003.13,-4.63),(2006.23,-4.95),(2005.34,-5.09),(1995.95,-5.12),(1996.15,-5.13),(2000.54,-5.13),
    (2007.21,-5.73),(2007.46,-5.77),(2007.21,-5.85),(1997.72,-6.08),(2006.28,-6.32),(2006.26,-6.35),(2002.97,-6.42),(2005.98,-6.55),
    (2001.34,-6.61),(2001.11,-6.66),(2008.11,-7.0),(2005.33,-7.22),(2005.33,-7.27),(2006.26,-7.22),(2006.26,-7.46),(1993.44,-7.66),
    (2004.36,-7.79),(2004.36,-7.84),(2008.57,-7.94),(1992.7,-8.01),(2003.84,-8.25),(1997.41,-8.47),(2004.84,-8.54),(2000.47,-9.7),
    (2001.8,-9.86),(2008.11,-9.6),(2008.46,-9.72),(2008.11,-9.97),
]
# 2009-2024
near_recent = [
    (2013.65,3.92),(2010.5,3.43),(2011.65,3.25),(2017.34,3.33),(2018.34,3.23),(2017.5,3.11),(2017.8,2.99),(2017.58,2.86),
    (2016.81,2.85),(2017.34,2.82),(2016.9,2.72),(2020.95,3.48),(2019.7,2.89),(2018.98,2.89),(2018.34,2.63),(2021.19,2.58),
    (2012.49,2.55),(2013.01,2.35),(2014.9,2.44),(2019.03,2.27),(2010.03,2.08),(2010.77,2.1),(2013.54,2.1),(2013.7,2.05),
    (2013.99,2.1),(2015.32,1.98),(2016.55,1.9),(2016.16,1.86),(2018.42,1.95),(2019.4,1.97),(2019.37,1.84),(2017.5,1.86),
    (2017.65,1.79),(2022.75,1.91),(2011.85,1.87),(2012.8,1.87),(2009.67,1.74),(2013.65,1.79),(2013.8,1.68),(2013.73,1.76),
    (2012.44,1.74),(2012.52,1.67),(2019.55,1.74),(2019.63,1.69),(2021.42,1.68),(2015.96,1.66),(2015.91,1.62),(2015.85,1.53),
    (2017.39,1.65),(2017.65,1.57),(2010.57,1.54),(2011.93,1.55),(2012.37,1.53),(2013.4,1.53),(2018.37,1.55),(2022.62,1.53),
    (2010.21,1.41),(2010.32,1.43),(2011.26,1.38),(2011.63,1.36),(2011.73,1.41),(2011.98,1.48),(2011.98,1.4),(2018.81,1.45),
    (2019.62,1.46),(2018.04,1.36),(2018.24,1.36),(2018.58,1.36),(2019.55,1.32),(2020.93,1.4),(2010.32,1.3),(2012.37,1.3),
    (2013.36,1.29),(2015.59,1.26),(2016.67,1.29),(2021.22,1.3),(2014.77,1.2),(2015.04,1.21),(2013.98,1.16),(2020.78,1.2),
    (2021.39,1.2),(2010.9,1.14),(2011.06,1.1),(2011.22,1.15),(2010.75,1.1),(2012.29,1.13),(2012.78,1.1),(2017.85,1.14),
    (2015.94,1.13),(2011.93,1.06),(2012.17,1.08),(2012.14,1.05),(2013.65,1.07),(2019.06,1.07),(2020.06,1.11),(2020.58,1.08),
    (2010.81,0.99),(2013.81,0.98),(2014.45,0.97),(2018.13,1.0),(2018.62,0.99),(2010.26,0.9),(2011.4,0.93),(2015.63,0.89),
    (2016.99,0.92),(2017.8,0.89),(2022.17,0.95),(2022.65,0.89),(2011.65,0.87),(2013.22,0.84),(2014.14,0.84),(2014.9,0.86),
    (2014.67,0.81),(2019.4,0.89),(2020.04,0.86),(2021.14,0.86),(2018.85,0.85),(2010.45,0.78),(2010.58,0.78),(2010.78,0.8),
    (2010.95,0.75),(2012.08,0.78),(2013.22,0.76),(2013.9,0.76),(2017.93,0.8),(2018.24,0.76),(2015.0,0.71),(2016.29,0.69),
    (2016.57,0.74),(2018.67,0.73),(2018.03,0.71),(2020.54,0.77),(2022.86,0.71),(2010.88,0.61),(2011.93,0.6),(2014.55,0.66),
    (2014.34,0.56),(2017.8,0.61),(2017.4,0.66),(2019.42,0.65),(2020.36,0.61),(2020.95,0.61),(2021.67,0.59),(2022.86,0.53),
    (2017.47,0.55),(2017.14,0.55),(2015.96,0.54),(2015.78,0.61),(2010.9,0.48),(2011.44,0.45),(2011.85,0.48),(2012.01,0.48),
    (2012.67,0.51),(2012.67,0.45),(2013.19,0.53),(2013.78,0.48),(2016.68,0.49),(2016.65,0.45),(2016.77,0.46),(2016.88,0.4),
    (2017.06,0.45),(2017.34,0.5),(2017.54,0.39),(2018.32,0.37),(2018.57,0.51),(2019.36,0.46),(2019.72,0.45),(2019.63,0.38),
    (2019.83,0.4),(2020.21,0.38),(2020.42,0.44),(2020.78,0.35),(2020.88,0.35),(2021.06,0.39),(2021.27,0.35),(2021.22,0.3),
    (2022.17,0.44),(2011.16,0.44),(2011.49,0.56),(2015.86,0.41),(2015.91,0.36),(2014.3,0.36),(2016.8,0.31),(2016.85,0.23),
    (2010.45,0.28),(2011.5,0.35),(2011.5,0.2),(2011.93,0.16),(2012.45,0.2),(2013.65,0.26),(2013.65,0.13),(2013.86,0.2),
    (2014.6,0.23),(2015.62,0.18),(2016.22,0.18),(2018.42,0.25),(2018.9,0.23),(2019.77,0.22),(2021.6,0.2),(2021.73,0.31),
    (2010.57,0.07),(2010.62,0.08),(2013.4,0.12),(2013.27,0.06),(2014.03,0.08),(2014.42,0.06),(2014.8,0.02),(2018.03,0.11),
    (2018.32,0.11),(2020.04,0.14),(2020.27,0.13),(2020.37,0.08),(2021.03,0.13),(2021.06,0.11),(2021.19,0.08),(2021.67,0.11),
    (2022.31,0.09),(2022.75,0.1),(2010.99,0.01),(2017.45,0.02),(2018.14,0.01),(2020.27,0.03),(2019.63,-0.01),
    (2009.47,-0.12),(2009.77,-0.13),(2009.83,-0.21),(2010.22,-0.28),(2010.99,-0.08),(2011.93,-0.18),(2011.81,-0.21),(2012.63,-0.21),
    (2012.91,-0.18),(2013.06,-0.3),(2012.98,-0.38),(2013.99,-0.27),(2015.65,-0.23),(2016.22,-0.06),(2016.22,-0.32),(2016.77,-0.12),
    (2016.73,-0.2),(2016.9,-0.1),(2017.06,-0.15),(2017.55,-0.12),(2018.03,-0.19),(2018.29,-0.23),(2017.8,-0.4),(2019.81,-0.19),
    (2020.5,-0.11),(2021.11,-0.04),(2021.27,-0.13),(2021.47,-0.19),(2022.47,-0.05),(2010.65,-0.35),(2010.8,-0.32),(2011.03,-0.23),
    (2012.03,-0.42),(2013.91,-0.44),(2013.4,-0.51),(2013.7,-0.53),(2013.86,-0.59),(2015.34,-0.42),(2019.52,-0.44),(2020.81,-0.4),
    (2021.11,-0.42),(2021.22,-0.44),(2021.22,-0.51),(2023.45,-0.44),(2009.95,-0.57),(2010.67,-0.6),(2011.58,-0.56),(2012.04,-0.57),
    (2012.75,-0.55),(2020.5,-0.56),(2022.09,-0.6),(2010.0,-0.66),(2009.93,-0.68),(2012.96,-0.72),(2014.9,-0.71),(2015.06,-0.72),
    (2016.01,-0.74),(2015.95,-0.83),(2015.96,-0.93),(2016.73,-0.71),(2016.95,-0.65),(2019.47,-0.63),(2019.57,-0.65),(2020.98,-0.71),
    (2021.14,-0.76),(2021.77,-0.71),(2022.5,-0.67),(2023.09,-0.62),(2010.7,-0.83),(2010.91,-0.89),(2011.65,-0.88),(2012.0,-0.86),
    (2013.4,-0.9),(2013.37,-0.95),(2013.62,-0.85),(2013.03,-0.97),(2017.36,-0.82),(2017.36,-0.91),(2016.85,-0.96),(2017.13,-1.05),
    (2015.04,-1.0),(2010.81,-1.06),(2011.65,-1.02),(2011.73,-1.14),(2013.86,-1.07),(2014.04,-1.03),(2014.17,-1.03),(2014.73,-1.16),
    (2018.14,-1.01),(2018.57,-1.02),(2019.08,-1.07),(2018.36,-1.17),(2019.63,-1.13),(2020.21,-1.07),(2020.21,-1.24),(2013.37,-1.25),
    (2012.17,-1.36),(2012.55,-1.37),(2013.08,-1.34),(2015.81,-1.24),(2016.77,-1.29),(2017.45,-1.38),(2020.99,-1.25),(2020.99,-1.33),
    (2021.16,-1.42),(2022.55,-1.36),(2012.88,-1.5),(2010.58,-1.56),(2020.27,-1.45),(2019.81,-1.6),(2020.19,-1.67),(2020.95,-1.54),
    (2021.6,-1.62),(2021.81,-1.71),(2022.08,-1.77),(2023.11,-1.58),(2023.36,-1.8),(2014.5,-1.88),(2012.03,-2.11),(2020.95,-2.14),
    (2010.75,-2.39),(2015.49,-2.37),(2020.98,-2.38),(2022.6,-2.29),
    (2018.9,-9.13),(2015.8,-9.07),(2014.2,-7.4),(2014.1,-7.45),(2014.0,-6.0),(2018.65,-6.42),(2018.65,-6.53),(2019.7,-5.6),
    (2020.45,-7.62),(2022.6,-6.32),(2021.1,-4.9),(2021.7,-4.37),(2022.3,-4.35),(2014.3,-2.98),(2018.7,-4.2),(2019.8,-3.94),
    (2019.4,-1.98),(2020.95,-2.3),(2020.75,-2.75),(2020.95,-2.95),(2020.95,-3.17),(2022.6,-2.25),(2019.45,-2.57),
    (2013.7,7.49),(2014.9,5.49),(2015.3,4.5),(2015.8,3.95),(2014.0,4.2),(2014.5,4.35),(2015.2,4.8),(2022.65,8.2),(2018.05,5.1),
    (2020.3,4.8),(2021.6,4.78),(2022.15,5.5),(2022.65,5.45),(2018.1,4.3),(2020.9,3.5),(2020.85,3.17),(2012.0,4.95),(2012.0,4.35),
    (2010.35,5.3),(2012.1,3.25),(2012.5,3.75),(2013.0,2.25),(2009.8,9.4),(2008.1,8.57),
]

# stations around 55 degrees
mid_dots = [
    (1979.42,9.94),(1971.82,9.03),(1966.19,8.32),(1979.62,8.18),(1967.05,7.55),(1970.96,7.61),(1971.42,6.59),(1971.21,6.46),
    (1969.23,5.89),(1970.16,5.74),(1972.65,5.15),(1969.14,4.98),(1976.69,4.97),(1978.26,6.38),(1969.72,4.52),(1976.62,4.61),
    (1979.28,4.33),(1969.83,4.15),(1967.03,3.79),(1966.98,2.3),(1967.86,2.01),(1967.62,1.36),(1971.73,0.81),(1971.2,-0.03),
    (1974.57,3.7),(1974.57,2.84),(1973.71,4.05),(1974.47,0.2),(1967.05,-1.98),(1968.03,-3.31),(1966.16,-3.83),(1967.1,-3.93),
    (1972.78,-4.2),(1973.93,-4.15),(1974.9,-2.96),(1979.03,-1.25),(1966.98,-5.8),(1971.21,-5.74),(1969.95,-6.69),(1976.69,-7.75),
    (1969.21,-8.38),(1972.8,-8.36),(1967.96,-8.88),(1974.62,-9.25),(1979.44,-5.79),(1983.65,4.24),(1984.8,4.22),
    (1981.49,3.61),(1981.98,3.48),(1980.21,3.27),(1979.82,3.16),(1980.31,2.47),(1983.67,3.09),(1984.19,3.19),(1985.39,2.93),
    (1990.52,3.0),(1988.57,2.14),(1988.18,1.76),(1988.62,1.45),(1979.99,1.67),(1981.54,1.61),(1991.77,0.38),(1993.34,-0.42),
    (1983.95,-0.49),(1983.28,-1.12),(1992.16,-1.75),(1993.41,-0.99),(1983.96,-2.18),(1991.98,9.19),(1994.08,9.11),
    (2003.72,9.21),(1992.33,7.9),(2003.46,6.12),(2003.46,5.95),(1994.05,5.89),(2001.93,5.7),(2002.46,5.73),(1996.79,5.31),
    (2000.67,5.27),(2001.16,5.1),(1997.36,5.05),(2003.28,4.79),(1997.23,4.7),(2005.11,4.34),(1999.31,4.6),(1999.25,4.56),
    (2002.39,4.47),(2002.41,4.35),(2009.03,5.82),(1992.11,3.95),(1995.72,3.95),(2000.7,4.01),(2003.52,4.04),(2003.72,4.06),
    (1994.12,3.52),(1995.12,2.93),(1995.53,3.64),(1997.25,3.44),(1998.37,3.55),(2000.73,3.38),(2001.84,3.92),(2001.52,3.6),
    (2003.65,3.92),(2003.21,3.13),(1997.83,2.82),(1999.91,2.82),(2007.27,2.77),(1994.12,2.33),(1999.47,2.24),(2003.16,2.23),
    (2007.6,2.27),(1996.35,1.85),(1997.25,1.82),(1994.47,1.36),(1998.11,1.21),(2000.89,1.48),(1999.86,1.09),(2001.19,0.74),
    (1998.4,-1.31),(1994.14,-0.59),(1996.07,-0.39),(1998.2,-0.68),(2002.22,-0.42),(2005.42,-0.85),(1995.24,-0.93),(2001.84,-0.93),
    (1994.64,-1.88),(1995.31,-2.36),(1998.11,-1.74),(2000.72,-1.82),(2002.79,-2.02),(2006.69,-1.98),(2008.29,-2.05),
    (2008.74,-2.22),(2007.43,-1.66),(2008.54,-1.81),(1997.88,-2.3),(2002.69,-2.59),(1999.15,-2.72),(1995.36,-3.3),(1992.62,-3.37),
    (1992.67,-3.44),(1993.88,-4.19),(2007.77,-4.24),(2003.85,-4.45),(1996.11,-4.85),(2004.56,-4.97),(2010.21,2.13),(2015.9,3.95),
    (2015.57,1.07),(2017.62,0.45),(2022.65,0.36),(2021.73,-0.9),(2018.14,-1.46),(2021.27,-1.98),
]
# stations around 95 degrees
far_dots = [
    (1969.59,9.83),(1970.85,9.52),(1974.75,9.54),(1968.47,9.39),(1971.9,9.28),(1974.82,8.33),(1972.72,7.97),(1970.29,7.37),
    (1970.72,4.94),(1969.39,6.7),(1971.55,5.91),(1968.01,6.19),(1968.7,6.1),(1967.65,5.92),(1967.5,5.79),(1968.59,5.39),
    (1978.24,6.18),(1978.44,4.45),(1967.69,4.32),(1969.85,4.3),(1967.03,3.97),(1967.58,4.01),
    (1967.55,3.93),(1967.7,3.09),(1966.7,2.86),(1966.58,2.46),(1969.22,2.32),(1970.03,2.23),(1971.07,2.28),(1969.68,1.9),
    (1976.44,1.79),(1978.37,1.99),(1978.43,1.96),(1978.01,1.7),(1966.78,0.81),(1968.12,0.76),(1966.19,0.42),(1966.16,0.4),
    (1966.45,0.28),(1966.16,-0.19),(1970.45,-0.42),(1967.2,-0.69),(1966.55,-0.85),(1969.0,-0.85),(1969.96,-0.97),(1971.6,-0.7),
    (1978.24,-0.53),(1971.43,1.12),(1974.93,1.75),(1974.91,-0.65),(1974.75,3.23),(1966.52,-2.43),(1971.28,-2.7),(1967.1,-3.24),
    (1978.37,-3.04),(1979.47,-3.81),(1971.54,-3.97),(1967.47,-4.68),(1967.44,-5.1),(1974.16,-5.28),(1971.31,-5.42),(1979.72,-5.83),
    (1974.11,-6.25),(1968.42,-6.45),(1969.39,-7.15),(1966.19,-7.75),(1967.24,-8.6),(1967.73,-8.58),(1971.72,-8.76),(1967.62,-9.74),
    (1969.52,-9.96),(1970.08,-9.98),(1981.05,4.06),(1982.47,4.1),(1980.37,3.42),(1980.11,3.04),(1981.9,3.06),(1981.93,2.84),
    (1983.41,2.81),(1983.9,3.1),(1983.96,2.38),(1983.46,2.25),(1983.23,2.12),(1982.28,2.11),(1979.19,1.95),(1979.13,1.91),
    (1985.73,1.89),(1980.23,1.73),(1981.69,1.81),(1984.29,1.71),(1984.72,1.62),(1979.87,1.41),(1981.01,1.2),(1984.9,1.26),
    (1984.47,1.05),(1984.68,0.94),(1984.68,0.86),(1981.05,0.86),(1981.34,0.87),(1981.65,0.85),(1983.62,0.85),(1982.21,0.47),
    (1983.44,0.52),(1980.96,0.37),(1986.85,0.49),(1987.32,0.26),(1980.46,0.14),(1983.37,0.06),(1982.0,-0.56),(1987.34,-0.54),
    (1981.88,-1.18),(1984.85,-1.39),(1981.6,-1.75),(1982.54,-1.76),(1984.59,-1.67),(1982.13,-1.99),(1987.19,-2.05),(1981.05,-2.22),
    (1983.47,-2.29),(1991.47,-2.22),(1982.54,-2.46),(1984.08,-2.58),(1983.03,-2.62),(1982.62,-3.01),(1983.24,-2.99),(1989.65,3.67),
    (1990.75,1.23),(1992.5,4.31),(1992.78,4.11),(1992.29,3.48),(1993.06,3.5),(1992.65,3.32),(1993.01,3.21),(1992.13,2.15),
    (1993.01,1.78),(1992.37,1.66),(1992.5,1.5),(1992.32,1.27),(1992.62,0.79),(1992.5,0.57),(1993.64,0.22),(1992.16,-0.62),
    (1992.42,-0.53),(1992.9,-0.51),(1991.87,-0.91),(1992.52,-0.9),(1993.57,-1.01),(1998.62,8.86),(1999.75,8.39),(2001.02,8.39),
    (2002.8,8.29),(2008.0,8.58),(2007.16,8.26),(2008.29,8.28),(2009.98,8.22),(1994.56,7.8),(1995.77,7.9),(1992.28,7.08),
    (1998.85,7.04),(2000.03,7.09),(1994.84,6.74),(1996.07,6.47),(1996.16,6.37),(1999.46,6.29),(1992.25,6.12),(2005.44,6.25),
    (2003.18,6.08),(2008.41,5.87),(2007.95,5.65),(1993.56,5.79),(1998.46,5.73),(2000.34,5.7),(1992.47,5.46),(1995.38,5.41),
    (1997.28,5.47),(1998.18,5.08),(1995.77,5.03),(1994.03,4.86),(2010.34,5.36),(2008.49,4.91),(2009.57,4.86),(1996.44,4.49),
    (1998.51,4.59),(2008.11,4.56),(2008.52,4.59),(1992.51,4.3),(1992.77,4.11),(1997.97,4.16),(2001.13,4.13),(2006.23,4.23),
    (2010.13,4.27),(2005.44,4.0),(2006.13,3.98),(2008.11,4.01),(1999.46,3.94),(1995.04,3.69),(1996.78,3.64),(1997.83,3.83),
    (1998.29,3.85),(1998.84,3.67),(1994.42,3.21),(1995.5,3.31),(1996.42,3.08),(1999.39,3.44),(1999.7,3.31),(2001.43,3.25),
    (2002.83,3.62),(2005.99,3.67),(2008.35,3.64),(2008.53,3.69),(2006.22,3.53),(2007.5,3.39),(2008.48,3.37),(2005.86,3.38),
    (2008.07,2.65),(1995.96,2.56),(1996.96,2.75),(1997.43,2.72),(1998.65,2.72),(1998.62,3.06),(2000.53,2.82),(2000.55,2.63),
    (2001.6,2.57),(2003.43,2.86),(2003.7,2.45),(2008.57,2.33),(2008.21,2.39),(1995.37,2.03),(2000.55,2.3),(2000.42,2.05),
    (2003.53,2.21),(2003.65,2.06),(1997.71,1.95),(1999.04,1.82),(1994.27,1.71),(1994.52,1.74),(1999.76,1.76),(2000.47,1.57),
    (2003.35,1.78),(2002.78,1.62),(2006.35,1.98),(1993.89,1.38),(1993.86,1.26),(1994.96,1.48),(1996.65,1.45),(1999.03,1.3),
    (2001.43,1.43),(2000.66,1.38),(2003.98,1.2),(2005.86,1.21),(2008.07,1.43),(1995.2,1.07),(1995.45,1.09),(1994.09,0.83),
    (1994.96,0.73),(2002.66,0.85),(2007.71,0.92),(2008.32,0.78),(2009.71,0.62),(1994.71,0.21),(2000.53,0.77),(2002.25,0.42),
    (2003.57,0.11),(2007.75,0.32),(1995.32,-0.18),(1999.55,-0.42),(2000.04,-0.42),(1994.39,-0.76),(1996.07,-0.74),(1999.14,-1.0),
    (2001.6,-1.13),(2003.4,-0.88),(2006.6,-0.92),(2007.75,-1.0),(2008.12,-0.81),(2007.99,-1.13),(2009.71,-1.38),(2008.57,-1.34),
    (1995.25,-1.13),(1994.63,-1.26),(1995.86,-1.43),(1996.32,-1.45),
    (1995.75,-1.75),(1995.56,-1.88),(1996.11,-2.07),(1995.28,-2.03),(1994.03,-2.55),(1996.2,-2.53),(1998.25,-2.17),(1997.46,-2.49),
    (2007.7,-1.93),(2007.88,-1.96),(2008.11,-2.11),(2007.18,-2.31),(2007.8,-2.3),(2006.38,-2.4),(2007.67,-2.47),(2007.69,-2.53),
    (2007.8,-2.55),(2008.59,-2.63),(2010.34,-2.55),(2010.62,-2.66),(2010.87,-2.22),(2010.85,-2.28),(2007.66,-2.77),(2007.72,-2.8),
    (2007.77,-2.92),(2005.23,-2.94),(2006.29,-2.99),(2005.75,-3.2),(1994.38,-3.19),(1996.49,-3.28),(2001.46,-3.43),(1999.07,-3.74),
    (1998.43,-3.52),(2006.34,-3.66),(2006.67,-3.61),(2010.33,-3.3),(2010.15,-3.58),(2010.48,-3.86),(2010.8,-3.92),(2007.67,-4.0),
    (2009.72,-4.0),(1994.39,-4.14),(2000.44,-4.24),(2002.51,-4.07),(2002.56,-4.16),(2005.21,-4.21),(2008.49,-4.25),(2008.31,-4.29),
    (2008.49,-4.5),(1999.72,-4.48),(1998.74,-4.84),(2002.44,-4.7),(1994.77,-4.93),(2000.52,-5.25),(2006.47,-5.1),(2008.11,-5.18),
    (2010.8,-4.97),(2009.67,-5.14),(1996.66,-5.77),(2001.66,-5.79),(2009.18,-5.8),(2010.39,-5.77),(2009.49,-6.04),(2010.39,-6.01),
    (1995.08,-6.28),(2008.46,-6.5),(2010.29,-6.37),(1993.79,-7.13),(1996.15,-7.12),(2001.44,-7.2),(1994.38,-7.41),(1995.77,-7.41),
    (1997.03,-7.62),(2002.49,-8.14),(1992.72,-8.16),(1993.44,-8.32),(1994.38,-8.65),(1994.38,-9.02),(1996.11,-8.91),(2001.61,-9.36),
    (1995.77,-9.57),(1994.18,-9.98),
    (2009.72,0.61),(2014.52,1.55),(2016.03,1.49),(2018.95,1.45),(2018.93,2.97),(2019.42,3.11),(2020.81,3.12),(2019.45,2.13),
    (2023.42,1.51),(2021.72,0.81),(2022.17,0.79),(2014.32,1.02),(2014.44,0.17),(2020.45,0.12),(2019.63,0.03),(2010.54,-0.17),
    (2014.36,-0.26),(2015.45,-0.37),(2019.42,-0.49),(2021.49,-0.52),(2023.44,-0.28),(2010.21,-0.84),(2010.13,-1.0),(2022.75,-0.95),
    (2009.72,-1.37),(2022.45,-1.27),(2021.19,-1.5),(2019.44,-1.79),(2010.86,-2.21),(2010.85,-2.28),(2018.01,-2.24),(2022.67,-2.22),
    (2017.5,9.6),(2018.7,8.33),(2020.4,7.83),(2017.8,5.77),(2022.65,5.7),(2023.45,1.53),(2014.5,-4.7),(1995.2,-8.17),(2010.0,8.2),
    (2008.9,8.25),
]

near_groups = [near_upper_left, near_middle_left, near_1976, near_lower_left, near_eighties, near_nineties_upper,
               near_nineties_centre, near_nineties_dense, near_nineties_lower, near_recent]
near_dist = 8
mid_dist = 58
far_dist = 95

year_ticks = [1965, 1970, 1975, 1980, 1985, 1990, 1995, 2000, 2005, 2010, 2015, 2020, 2025]
year_labels = ["1965", "1970", "1975", "1980", "1985", "1990", "1995", "2000", "2005", "2010", "2015", "2020", ""]
cbar_ticks = [0, 30, 60, 90, 120, 150, 180]
cmap_colors = ["#35123a", "#4a1a2c", "#5a1f1c", "#6f2a08", "#784400", "#725e02", "#6f7020",
               "#677f4a", "#5f8f72", "#629e9a", "#7fb0bd", "#a8bfd9", "#d9d2fb"]

near = pd.DataFrame([p for g in near_groups for p in g], columns=["year", "resid"]).assign(dist=near_dist)
mid = pd.DataFrame(mid_dots, columns=["year", "resid"]).assign(dist=mid_dist)
far = pd.DataFrame(far_dots, columns=["year", "resid"]).assign(dist=far_dist)
df = pd.concat([far, mid, near], ignore_index=True)
med = pd.DataFrame(medians, columns=["year", "resid"])

sns.set_theme(style="white")
plt.rcParams["font.family"] = ["Liberation Sans", "DejaVu Sans"]
plt.rcParams["axes.unicode_minus"] = True

W, H = 1606, 1162
fig = plt.figure(figsize=(W / 100, H / 100), dpi=100, facecolor="white")
ax = fig.add_axes([135.5 / W, 1 - 1059 / H, (1374 - 135.5) / W, (1059 - 114.7) / H])

cmap = LinearSegmentedColormap.from_list("dist", cmap_colors)
norm = Normalize(0, 180)

ax.axhline(0, color="#808080", lw=1.1, zorder=1)
sns.scatterplot(data=df, x="year", y="resid", hue="dist", palette=cmap, hue_norm=norm, s=4.5,
                linewidth=0, legend=False, ax=ax, zorder=2)
sns.scatterplot(data=med, x="year", y="resid", color="#3fdcf6", s=25, linewidth=0, legend=False, ax=ax, zorder=3)

ax.set_xlim(1964, 2025)
ax.set_ylim(-10, 10)
ax.set_xticks(year_ticks, year_labels)
ax.yaxis.set_major_locator(MultipleLocator(2))
ax.yaxis.set_minor_locator(MultipleLocator(1))
ax.tick_params(axis="both", which="major", length=9, width=1.0, labelsize=24, color="black", labelcolor="black",
               top=True, right=True, direction="out", pad=8.5)
ax.tick_params(axis="y", which="minor", length=4.5, width=1.0, left=True, right=True, direction="out")
ax.tick_params(axis="x", pad=9)
# year labels sit a little right of their ticks
shift = ScaledTranslation(10 / 100, 0, fig.dpi_scale_trans)
for lbl in ax.get_xticklabels():
    lbl.set_transform(lbl.get_transform() + shift)
for sp in ax.spines.values():
    sp.set_visible(True)
    sp.set_linewidth(2.0)
    sp.set_color("black")

ax.set_xlabel("Year", fontsize=24, labelpad=15, color="black")
ax.set_ylabel("Residual and monthly median residual (seconds)", fontsize=24, labelpad=15, color="black")
ax.set_title("Phase residuals (S Sn Sg Sb)", fontsize=29.7, pad=60, color="black")

cax = fig.add_axes([1434 / W, 1 - 822.7 / H, (1478.7 - 1434) / W, (822.7 - 350.7) / H])
cb = fig.colorbar(ScalarMappable(norm=norm, cmap=cmap), cax=cax, ticks=cbar_ticks)
cb.outline.set_linewidth(2.0)
cb.ax.tick_params(length=8, width=1.0, labelsize=24, pad=10, color="black", labelcolor="black")
cb.set_label("Distance (degrees)", fontsize=24, labelpad=9, color="black")

fig.savefig("out.png", dpi=100)
